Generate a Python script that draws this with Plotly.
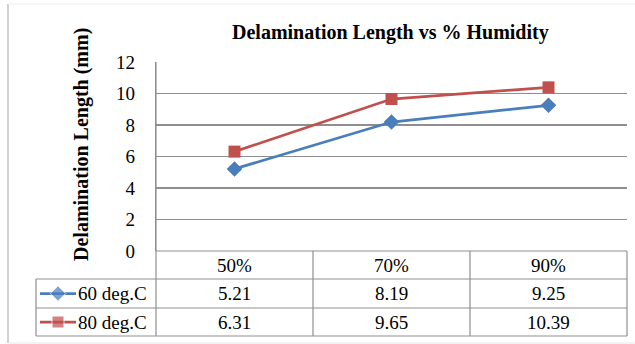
import plotly.graph_objects as go

categories = ["50%", "70%", "90%"]
series_names = ["60 deg.C", "80 deg.C"]
values_60 = [5.21, 8.19, 9.25]
values_80 = [6.31, 9.65, 10.39]
y_ticks = [0, 2, 4, 6, 8, 10, 12]

W, H = 635, 344
PL, PR, PT, PB = 156, 627, 62, 251
TL = 36
ROWS = [251, 279, 308, 336]
FONT = "Liberation Serif, Times New Roman, serif"
GRID = "#8f8f8f"
colors = ["#4A7EBB", "#C0504D"]
symbols = ["diamond", "square"]
msizes = [12, 12]
series = [values_60, values_80]

fig = go.Figure()
xidx = list(range(len(categories)))
for name, vals, c, s, sz in zip(series_names, series, colors, symbols, msizes):
    fig.add_trace(go.Scatter(
        x=xidx, y=vals, mode="lines+markers", name=name,
        line=dict(color=c, width=2.75), marker=dict(symbol=s, size=sz, color=c),
        xaxis="x", yaxis="y", cliponaxis=False, showlegend=False))

# legend keys inside the data table (pixel overlay axes)
for k, (c, s, sz) in enumerate(zip(colors, symbols, msizes)):
    yc = (ROWS[k + 1] + ROWS[k + 2]) / 2
    fig.add_trace(go.Scatter(
        x=[40, 58, 76], y=[yc, yc, yc], mode="lines+markers",
        line=dict(color=c, width=2.75),
        marker=dict(symbol=s, size=[0, sz, 0], color=c),
        xaxis="x2", yaxis="y2", showlegend=False, hoverinfo="skip"))

shapes = []
def hline(y, x0, x1, color=GRID, w=1.2):
    shapes.append(dict(type="line", xref="x2", yref="y2", x0=x0, x1=x1, y0=y, y1=y,
                       line=dict(color=color, width=w)))
def vline(x, y0, y1, color=GRID, w=1.2):
    shapes.append(dict(type="line", xref="x2", yref="y2", x0=x, x1=x, y0=y0, y1=y1,
                       line=dict(color=color, width=w)))

hline(ROWS[0], PL, PR)
for y in ROWS[1:]:
    hline(y, TL, PR)
vline(TL, ROWS[1], ROWS[3])
vline(PL, PT, ROWS[3])
colw = (PR - PL) / len(categories)
for i in range(1, len(categories) + 1):
    vline(PL + i * colw, ROWS[0], ROWS[3])
# outer chart border
vline(8, 4, 343, color="#d0d0d0", w=2)
hline(4, 8, W, color="#eeeeee", w=1)
hline(343, 8, W, color="#e6e6e6", w=1)

annotations = []
annotations.append(dict(text="<b>Delamination Length vs % Humidity</b>", xref="x2", yref="y2",
                        x=390, y=32, showarrow=False, font=dict(family=FONT, size=20, color="#000")))
annotations.append(dict(text="<b>Delamination Length (mm)</b>", xref="x2", yref="y2",
                        x=81, y=145, textangle=-90, showarrow=False,
                        font=dict(family=FONT, size=20, color="#000")))
hy = (ROWS[0] + ROWS[1]) / 2
for i, cat in enumerate(categories):
    annotations.append(dict(text=cat, xref="x", yref="y2", x=i, y=hy, showarrow=False,
                            font=dict(family=FONT, size=19, color="#000")))
for k, (name, vals) in enumerate(zip(series_names, series)):
    yc = (ROWS[k + 1] + ROWS[k + 2]) / 2
    annotations.append(dict(text=name, xref="x2", yref="y2", x=76, y=yc, xanchor="left",
                            showarrow=False, font=dict(family=FONT, size=19, color="#000")))
    for i, v in enumerate(vals):
        annotations.append(dict(text=f"{v:.2f}", xref="x", yref="y2", x=i, y=yc, showarrow=False,
                                font=dict(family=FONT, size=19, color="#000")))

fig.update_layout(
    template="none",
    width=W, height=H, margin=dict(l=0, r=0, t=0, b=0, pad=0, autoexpand=False),
    paper_bgcolor="white", plot_bgcolor="rgba(0,0,0,0)",
    showlegend=False,
    xaxis=dict(domain=[PL / W, PR / W], range=[-0.5, len(categories) - 0.5],
               showgrid=False, zeroline=False, showticklabels=False, showline=False,
               anchor="y", automargin=False),
    yaxis=dict(domain=[(H - PB) / H, (H - PT) / H], range=[0, 12], tickvals=y_ticks,
               showgrid=True, gridcolor=GRID, gridwidth=1.2, zeroline=False,
               showline=True, linecolor=GRID, linewidth=1.2, ticks="",
               ticklabelstandoff=16, automargin=False,
               tickfont=dict(family=FONT, size=19, color="#000"), anchor="x"),
    xaxis2=dict(domain=[0, 1], range=[0, W], visible=False, anchor="y2", automargin=False),
    yaxis2=dict(domain=[0, 1], range=[H, 0], visible=False, anchor="x2", automargin=False),
    shapes=shapes, annotations=annotations,
)

fig.write_html("out.html", config={"displayModeBar": False, "staticPlot": True},
               post_script="document.body.style.margin='0';document.documentElement.style.overflow='hidden';")
